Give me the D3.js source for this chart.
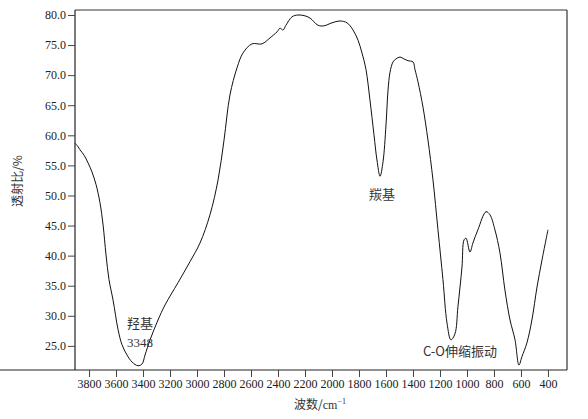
<!DOCTYPE html>
<html><head><meta charset="utf-8">
<script src="https://cdn.jsdelivr.net/npm/d3@7"></script>
<style>body{margin:0;background:#fff}svg{display:block}</style>
</head><body><svg id="c" width="588" height="419"></svg>
<script>
const wavenumber = [3904,3881,3867,3837,3807,3778,3748,3719,3696,3674,3652,3622,3585,3556,3519,3481,3437,3407,3385,3348,3289,3237,3141,3052,2978,2904,2844,2800,2756,2704,2659,2593,2519,2459,2407,2385,2363,2341,2296,2252,2207,2163,2104,2059,2000,1941,1889,1844,1807,1778,1748,1719,1689,1667,1644,1622,1600,1585,1570,1548,1526,1496,1467,1437,1400,1385,1363,1326,1289,1252,1215,1178,1148,1119,1089,1067,1037,1022,1007,978,956,919,859,830,793,756,719,681,644,615,593,556,519,481,444,400];
const transmittance = [58.7,58.1,57.6,56.7,55.4,53.9,51.8,48.8,45.1,40.1,36.0,32.6,27.7,25.2,23.5,22.3,21.7,22.0,23.5,26.0,29.3,31.8,35.5,39.0,42.1,46.8,52.6,59.2,66.7,71.2,73.7,75.2,75.2,76.2,77.2,77.8,77.5,78.3,79.7,80.0,79.9,79.5,78.3,78.2,78.7,79.0,78.7,77.5,75.8,73.7,70.9,65.9,60.1,55.9,53.2,55.6,61.7,67.5,70.5,72.2,72.7,73.0,72.7,72.4,72.2,70.9,68.9,64.7,59.2,52.6,44.3,36.0,28.8,26.0,27.0,31.5,38.1,42.6,42.9,40.6,42.1,44.3,47.3,46.8,44.3,40.5,34.3,29.3,26.0,21.8,23.2,25.5,29.3,34.8,39.3,44.3];
const xTicks = [3800,3600,3400,3200,3000,2800,2600,2400,2200,2000,1800,1600,1400,1200,1000,800,600,400];
const yTicks = [25,30,35,40,45,50,55,60,65,70,75,80];
const annotations = [
  {text:"羟基", wn:3422, t:28.0},
  {text:"3348", wn:3422, t:24.8},
  {text:"羰基", wn:1630, t:49.4},
  {text:"C-O伸缩振动", wn:1052, t:23.4}
];

const svg = d3.select("#c");
const L=75, R=567, T=10, B=370;
const x = d3.scaleLinear().domain([3904, 259]).range([L, R]);
const y = d3.scaleLinear().domain([20.99, 80.83]).range([B, T]);
const serif = "'Liberation Serif', 'DejaVu Serif', serif";
const cjk = "'Noto Sans CJK SC', serif";

// frame
svg.append("line").attr("x1",L).attr("x2",R).attr("y1",T).attr("y2",T).attr("stroke","#999").attr("stroke-width",2);
svg.append("line").attr("x1",R).attr("x2",R).attr("y1",T).attr("y2",B).attr("stroke","#333").attr("stroke-width",1.2);

const xa = svg.append("g").attr("transform",`translate(0,${B})`)
  .call(d3.axisBottom(x).tickValues(xTicks).tickFormat(d3.format("d")).tickSize(7).tickSizeOuter(0));
const ya = svg.append("g").attr("transform",`translate(${L},0)`)
  .call(d3.axisLeft(y).tickValues(yTicks).tickFormat(d3.format(".1f")).tickSize(7).tickSizeOuter(0));
[xa,ya].forEach(g=>{
  g.attr("font-family",null).style("font-family",serif).attr("font-size",null).style("font-size","12px");
  g.select(".domain").attr("stroke","#222").attr("stroke-width",1.2);
  g.selectAll(".tick line").attr("stroke","#444");
  g.selectAll("text").style("font-family",serif).style("font-size","12px").attr("fill","#222");
});
xa.selectAll("text").attr("dy","0.9em").attr("y",7);
ya.selectAll("text").attr("x",-9);
ya.select(".domain").attr("d",`M0,${T}V${B}`);
xa.select(".domain").attr("d",`M0,0H${R}`);

// curve
const line = d3.line().x((d,i)=>x(wavenumber[i])).y((d,i)=>y(transmittance[i])).curve(d3.curveCatmullRom.alpha(0.5));
svg.append("path").datum(transmittance).attr("d",line).attr("fill","none").attr("stroke","#111").attr("stroke-width",1);

// annotations
svg.selectAll("text.ann").data(annotations).enter().append("text").attr("class","ann")
  .attr("x",d=>x(d.wn)).attr("y",d=>y(d.t)).attr("text-anchor","middle")
  .style("font-family",d=>/^[0-9]/.test(d.text)?serif:cjk)
  .style("font-size","13px").attr("fill","#333").text(d=>d.text);

// axis titles
svg.append("text").attr("transform","translate(22,181) rotate(-90)").attr("text-anchor","middle")
  .style("font-family",cjk).style("font-size","12px").attr("fill","#333").text("透射比/%");
const xt = svg.append("text").attr("x",320).attr("y",409).attr("text-anchor","middle")
  .style("font-family",cjk).style("font-size","12px").attr("fill","#333");
xt.append("tspan").text("波数/");
xt.append("tspan").style("font-family",serif).text("cm");
xt.append("tspan").style("font-family",serif).style("font-size","8px").attr("dy",-5).text("−1");
</script></body></html>
